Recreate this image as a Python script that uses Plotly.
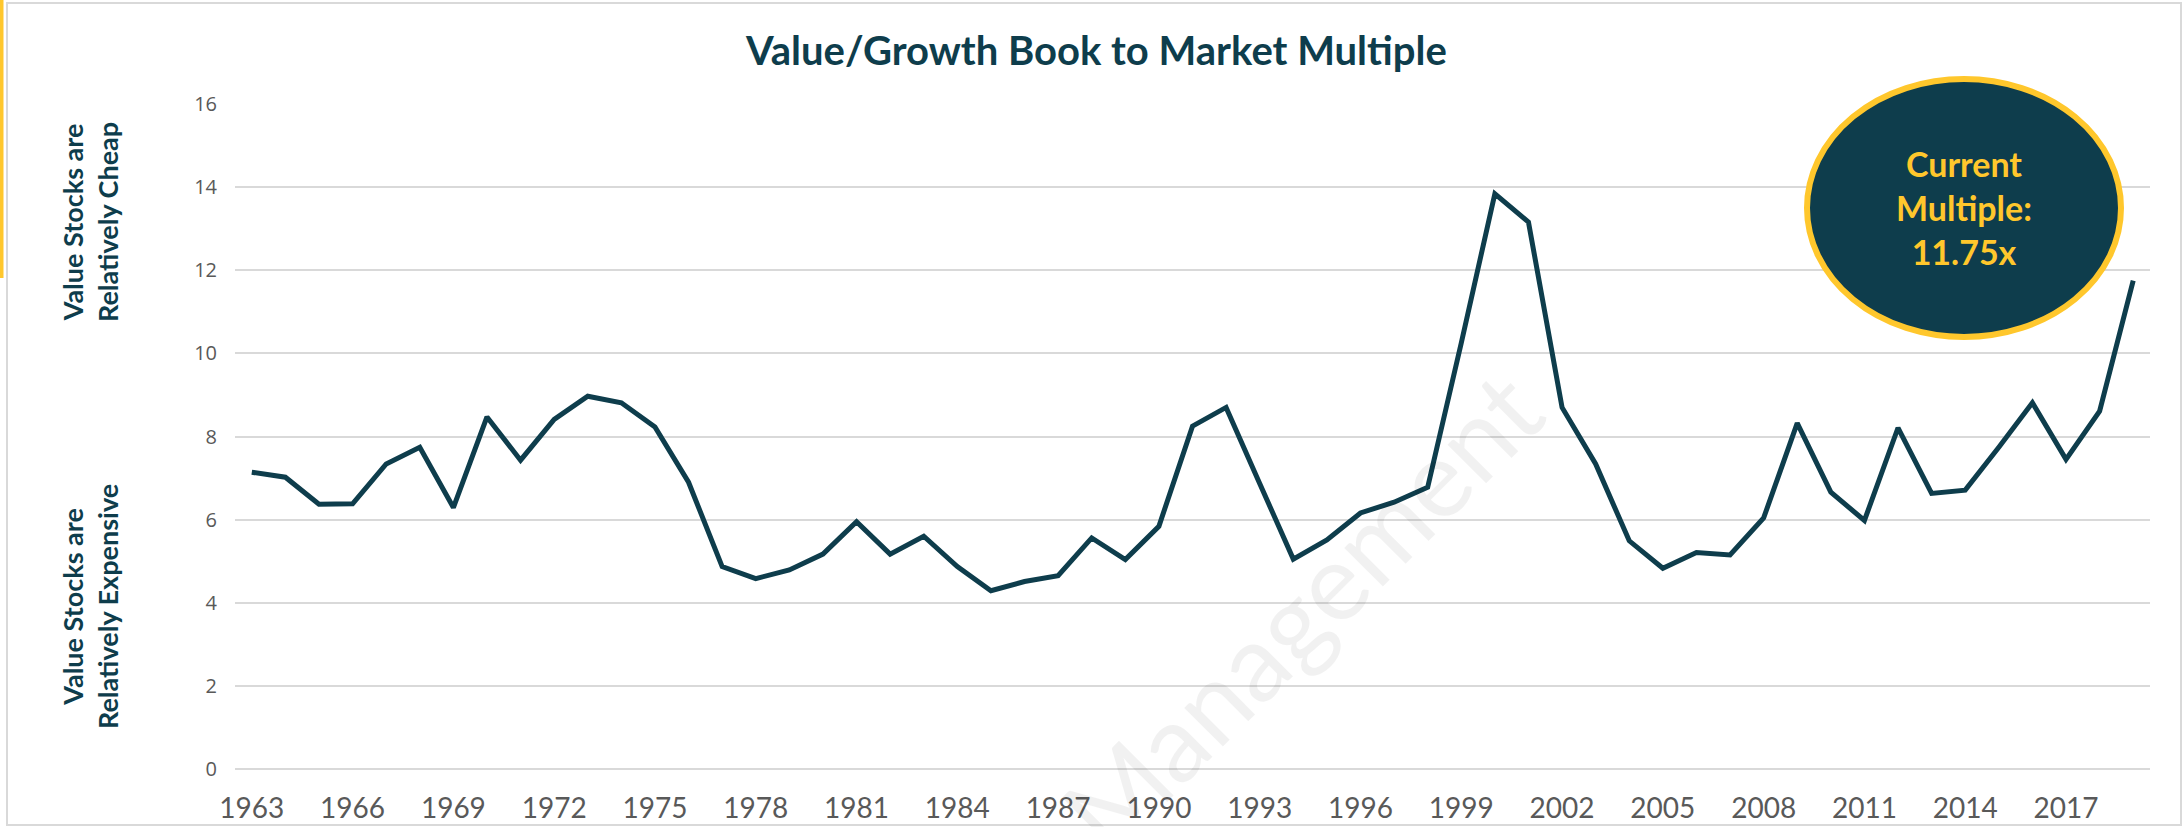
import plotly.graph_objects as go

# Value/Growth book-to-market multiple, one value per year
years = [
    1963, 1964, 1965, 1966, 1967, 1968, 1969, 1970, 1971, 1972, 1973, 1974, 1975, 1976,
    1977, 1978, 1979, 1980, 1981, 1982, 1983, 1984, 1985, 1986, 1987, 1988, 1989, 1990,
    1991, 1992, 1993, 1994, 1995, 1996, 1997, 1998, 1999, 2000, 2001, 2002, 2003, 2004, 2005,
    2006, 2007, 2008, 2009, 2010, 2011, 2012, 2013, 2014, 2015, 2016, 2017, 2018, 2019,
]
multiple = [
    7.14, 7.02, 6.37, 6.38, 7.34, 7.74, 6.29, 8.47, 7.43, 8.41, 8.97, 8.81, 8.23, 6.90,
    4.87, 4.58, 4.79, 5.17, 5.95, 5.17, 5.60, 4.87, 4.29, 4.51, 4.65, 5.56, 5.04, 5.84,
    8.25, 8.70, 6.87, 5.05, 5.51, 6.16, 6.42, 6.78, 10.25, 13.84, 13.16, 8.70, 7.34, 5.49, 4.83,
    5.21, 5.15, 6.04, 8.32, 6.66, 5.98, 8.21, 6.63, 6.71, 7.74, 8.81, 7.45, 8.61, 11.75,
]
tick_years = [1963, 1966, 1969, 1972, 1975, 1978, 1981, 1984, 1987, 1990,
              1993, 1996, 1999, 2002, 2005, 2008, 2011, 2014, 2017]
y_ticks = [0, 2, 4, 6, 8, 10, 12, 14, 16]

TEAL = "#0E3D4C"
GOLD = "#FFC72C"
GRID = "#D9D9D9"
TICK = "#595959"

W, H = 2184, 827
L, R, T, B = 235, 34, 104, 58
PW, PH = W - L - R, H - T - B


def px_x(px):
    """Pixel column -> paper x (relative to the plot area)."""
    return (px - L) / PW


def px_y(py):
    """Pixel row (from top) -> paper y (relative to the plot area)."""
    return (H - B - py) / PH


fig = go.Figure()
fig.add_trace(go.Scatter(
    x=years, y=multiple, mode="lines",
    line=dict(color=TEAL, width=5),
    hoverinfo="x+y", showlegend=False,
))

annotations = [
    # faint diagonal watermark
    dict(text="Management", x=px_x(1300), y=px_y(610), xref="paper", yref="paper",
         showarrow=False, textangle=-45, xanchor="center", yanchor="middle",
         font=dict(family="Lato", size=108, color="rgba(0,0,0,0.055)")),
    dict(text="<b>Value/Growth Book to Market Multiple</b>",
         x=px_x(1096), y=px_y(50), xref="paper", yref="paper", showarrow=False,
         xanchor="center", yanchor="middle",
         font=dict(family="Lato", size=40, color=TEAL)),
    dict(text="<b>Value Stocks are<br>Relatively Cheap</b>",
         x=px_x(90), y=px_y(222), xref="paper", yref="paper", showarrow=False,
         textangle=-90, xanchor="center", yanchor="middle",
         font=dict(family="Lato", size=27, color=TEAL)),
    dict(text="<b>Value Stocks are<br>Relatively Expensive</b>",
         x=px_x(90), y=px_y(607), xref="paper", yref="paper", showarrow=False,
         textangle=-90, xanchor="center", yanchor="middle",
         font=dict(family="Lato", size=27, color=TEAL)),
    dict(text=f"<b>Current<br>Multiple:<br>{multiple[-1]:.2f}x</b>",
         x=px_x(1964), y=px_y(208), xref="paper", yref="paper", showarrow=False,
         xanchor="center", yanchor="middle",
         font=dict(family="Lato", size=34, color=GOLD)),
]

shapes = [
    # outer frame
    dict(type="rect", xref="paper", yref="paper",
         x0=px_x(7), x1=px_x(2181), y0=px_y(825), y1=px_y(3),
         line=dict(color=GRID, width=2), layer="below"),
    # gold accent bar at the left edge
    dict(type="rect", xref="paper", yref="paper",
         x0=px_x(0), x1=px_x(3.5), y0=px_y(278), y1=px_y(0),
         fillcolor=GOLD, line=dict(width=0)),
    # callout ellipse
    dict(type="circle", xref="paper", yref="paper",
         x0=px_x(1807), x1=px_x(2121), y0=px_y(337), y1=px_y(79),
         fillcolor=TEAL, line=dict(color=GOLD, width=6)),
]

fig.update_layout(
    width=W, height=H, autosize=False,
    margin=dict(l=L, r=R, t=T, b=B, pad=0),
    paper_bgcolor="white", plot_bgcolor="white",
    annotations=annotations, shapes=shapes,
    xaxis=dict(
        range=[1962.5, 2019.5], tickvals=tick_years,
        ticktext=[str(y) for y in tick_years],
        showgrid=False, zeroline=False, showline=False, ticks="",
        ticklabelstandoff=20, automargin=False,
        tickfont=dict(family="Lato", size=28, color=TICK),
    ),
    yaxis=dict(
        range=[0, 16], tickvals=y_ticks,
        showgrid=True, gridcolor=GRID, gridwidth=2,
        zeroline=True, zerolinecolor=GRID, zerolinewidth=2,
        showline=False, ticks="", ticklabelstandoff=17, automargin=False,
        tickfont=dict(family="Open Sans", size=20, color=TICK),
    ),
)

fig.write_html("out.html")
